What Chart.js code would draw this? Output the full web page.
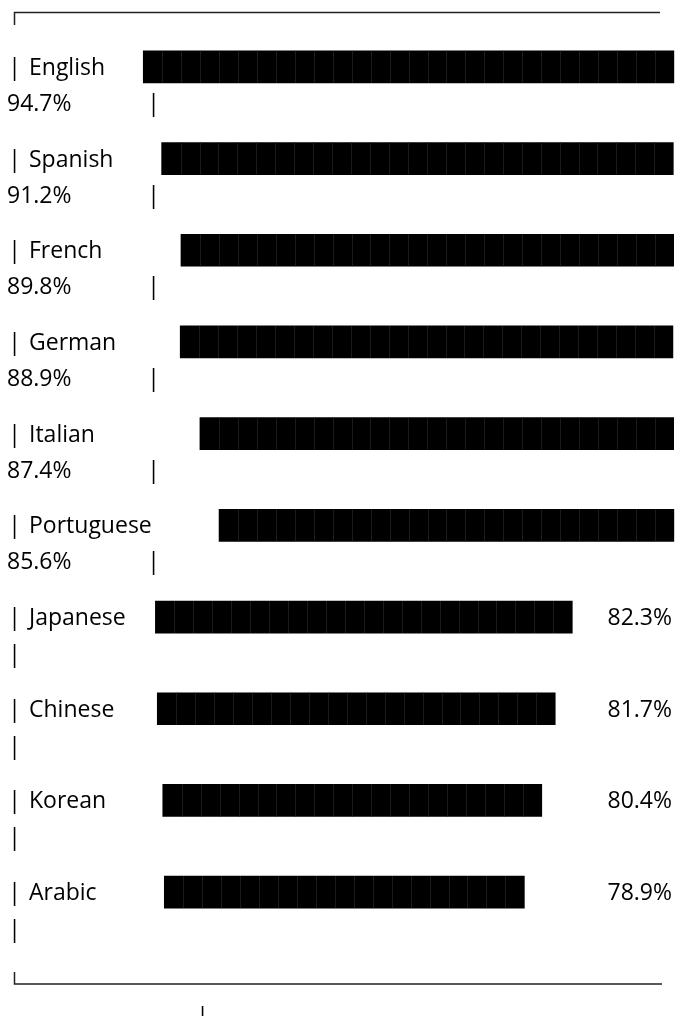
<!DOCTYPE html>
<html>
<head>
<meta charset="utf-8">
<title>Language scores</title>
<script src="https://cdn.jsdelivr.net/npm/chart.js@4.4.1/dist/chart.umd.min.js"></script>
<style>
    html, body { margin: 0; padding: 0; background: #fff; overflow: hidden; }
    #chart-box { width: 675px; height: 1016px; }
</style>
</head>
<body>
<div id="chart-box"><canvas id="langChart" width="675" height="1016"></canvas></div>
<script>
// values
const languages = ["English", "Spanish", "French", "German", "Italian", "Portuguese", "Japanese", "Chinese", "Korean", "Arabic"];
const scores = [94.7, 91.2, 89.8, 88.9, 87.4, 85.6, 82.3, 81.7, 80.4, 78.9];
// number of █ blocks in each bar, and the column where the bar begins
const blockCounts = [28, 27, 26, 26, 25, 24, 22, 21, 20, 19];
const barIndent = [7.56, 8.53, 9.55, 9.51, 10.55, 11.56, 8.20, 8.30, 8.59, 8.67];

const FONT = "23px 'Open Sans'";
const INK = "#000";

document.addEventListener("DOMContentLoaded", function () {
    renderChart();
});

function drawBar(ctx, x, baseline) {
    ctx.textAlign = "center";
    ctx.fillText("|", x, baseline);
}

// draws the box frame, the labels and the percentages around the bars
const textArtPlugin = {
    id: "textArt",
    afterDatasetsDraw: function (chart) {
        const ctx = chart.ctx;
        const xScale = chart.scales.x;
        const yScale = chart.scales.y;
        const width = chart.width;

        ctx.save();

        // block separators inside the bars (very faint)
        ctx.strokeStyle = "#1c1c1c";
        ctx.lineWidth = 1;
        const meta = chart.getDatasetMeta(0);
        meta.data.forEach((bar, i) => {
            const top = bar.y - bar.height / 2;
            const bottom = bar.y + bar.height / 2;
            for (let k = 1; k < blockCounts[i]; k++) {
                const px = Math.round(xScale.getPixelForValue(barIndent[i] + k)) + 0.5;
                ctx.beginPath();
                ctx.moveTo(px, top);
                ctx.lineTo(px, bottom);
                ctx.stroke();
            }
        });

        // frame top and bottom
        ctx.strokeStyle = "#222";
        ctx.lineWidth = 1.5;
        ctx.beginPath();
        ctx.moveTo(14.5, 25);
        ctx.lineTo(14.5, 12.5);
        ctx.lineTo(660, 12.5);
        ctx.stroke();
        ctx.beginPath();
        ctx.moveTo(14.5, 972);
        ctx.lineTo(14.5, 984);
        ctx.lineTo(662, 984);
        ctx.stroke();

        ctx.fillStyle = INK;
        ctx.font = FONT;
        ctx.textBaseline = "alphabetic";

        languages.forEach((lang, i) => {
            const cy = yScale.getPixelForValue(i);
            const baseline = cy + 8;
            const endPx = xScale.getPixelForValue(barIndent[i] + blockCounts[i]);
            const pct = scores[i].toFixed(1) + "%";
            const pctWidth = ctx.measureText(pct).width;

            drawBar(ctx, 14.5, baseline);
            ctx.textAlign = "left";
            ctx.fillText(lang, 29, baseline);

            // no room after the bar: the percentage wraps to the next line
            if (endPx + 30 + pctWidth > width) {
                ctx.textAlign = "left";
                ctx.fillText(pct, 7, cy + 44);
                drawBar(ctx, 153.5, cy + 44);
            } else {
                ctx.textAlign = "right";
                ctx.fillText(pct, 672, baseline);
                drawBar(ctx, 14.5, cy + 45);
            }
        });

        drawBar(ctx, 202.5, 1024);
        ctx.restore();
    }
};

function renderChart() {
    const ctx = document.getElementById("langChart").getContext("2d");

    new Chart(ctx, {
        type: "bar",
        data: {
            labels: languages,
            datasets: [{
                label: "Score",
                data: languages.map((_, i) => [barIndent[i], barIndent[i] + blockCounts[i]]),
                backgroundColor: "#000",
                borderWidth: 0,
                barThickness: 32
            }]
        },
        options: {
            indexAxis: "y",
            responsive: false,
            animation: false,
            layout: {
                padding: { top: 21, bottom: 78, left: 0, right: 0 }
            },
            plugins: {
                legend: { display: false },
                tooltip: { enabled: false }
            },
            scales: {
                x: {
                    type: "linear",
                    min: 0,
                    max: 35.62, // 675px / 18.95px per block
                    display: false
                },
                y: {
                    display: false
                }
            }
        },
        plugins: [textArtPlugin]
    });
}
</script>
</body>
</html>
